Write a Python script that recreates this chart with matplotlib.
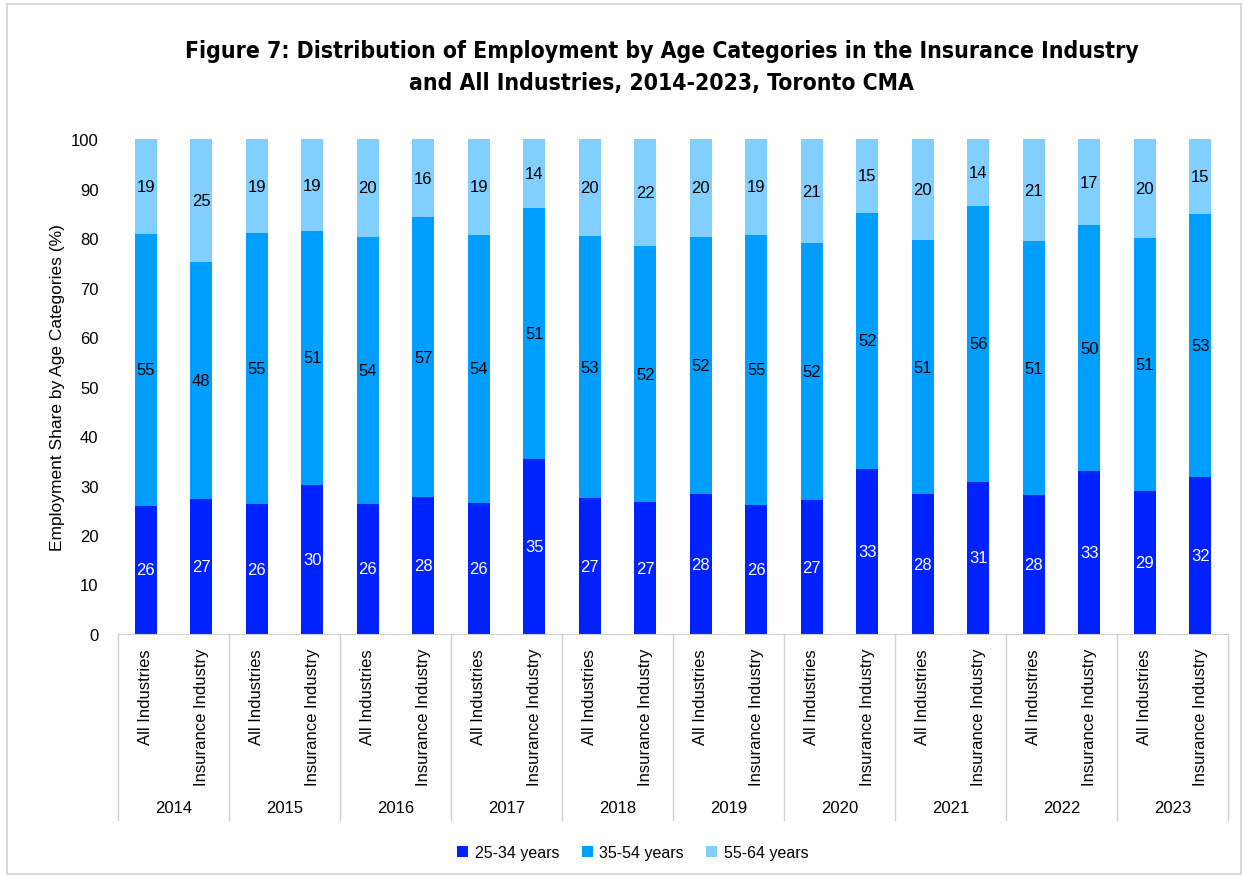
import numpy as np
import matplotlib.pyplot as plt
from matplotlib.patches import Rectangle

years = ['2014', '2015', '2016', '2017', '2018', '2019', '2020', '2021', '2022', '2023']
groups = ['All Industries', 'Insurance Industry']

# shares (%) per bar, order: 2014 All, 2014 Ins, 2015 All, ...
age_25_34 = [25.9, 27.3, 26.2, 30.2, 26.3, 27.6, 26.4, 35.3, 27.4, 26.6,
             28.2, 26.1, 27.0, 33.4, 28.2, 30.8, 28.1, 32.9, 28.8, 31.7]
age_35_54 = [54.9, 47.8, 54.8, 51.2, 54.0, 56.6, 54.3, 50.8, 53.0, 51.7,
             52.1, 54.6, 51.9, 51.7, 51.4, 55.6, 51.2, 49.7, 51.3, 53.1]
age_55_64 = [19.2, 24.9, 19.0, 18.6, 19.7, 15.8, 19.3, 13.9, 19.6, 21.7,
             19.7, 19.3, 21.1, 14.9, 20.4, 13.6, 20.7, 17.4, 19.9, 15.2]

series = ['25-34 years', '35-54 years', '55-64 years']
colors = ['#0022FF', '#009EFF', '#80CFFF']

plt.rcParams['font.family'] = ['Liberation Sans', 'DejaVu Sans']

fig = plt.figure(figsize=(12.48, 8.79), dpi=100)
ax = fig.add_axes([0.0946, 0.2776, 0.8894, 0.5631])

x = np.arange(len(age_25_34))
bottom = np.zeros(len(x))
for vals, col, name in zip([age_25_34, age_35_54, age_55_64], colors, series):
    vals = np.array(vals)
    ax.bar(x, vals, width=0.4, bottom=bottom, color=col, label=name)
    txt_col = 'white' if col == colors[0] else 'black'
    for xi, b, v in zip(x, bottom, vals):
        ax.text(xi, b + v / 2, f'{v:.0f}', ha='center', va='center',
                fontsize=12, color=txt_col)
    bottom += vals

ax.set_xlim(-0.5, len(x) - 0.5)
ax.set_ylim(0, 100)
ax.set_yticks(range(0, 101, 10))
ax.tick_params(axis='y', length=0, labelsize=12, pad=14)
ax.set_xticks(x)
ax.set_xticklabels(groups * len(years), rotation=90, fontsize=12)
ax.tick_params(axis='x', length=0, pad=10)
for s in ['top', 'right', 'left']:
    ax.spines[s].set_visible(False)
ax.spines['bottom'].set_color('#d0d0d0')
ax.set_ylabel('Employment Share by Age Categories (%)', fontsize=12.5, labelpad=4)

# year grouping lines and labels
trans = ax.get_xaxis_transform()
for i in range(len(years) + 1):
    ax.plot([i * 2 - 0.5, i * 2 - 0.5], [0, -0.375], transform=trans,
            color='#d0d0d0', lw=1, clip_on=False)
for i, yr in enumerate(years):
    ax.text(i * 2 + 0.5, -0.35, yr, transform=trans, ha='center', va='center',
            fontsize=12)

fig.suptitle('Figure 7: Distribution of Employment by Age Categories in the Insurance Industry\n'
             'and All Industries, 2014-2023, Toronto CMA',
             x=0.53, y=0.955, fontsize=16.5, fontweight='bold',
             fontfamily='DejaVu Sans', fontstretch='condensed', linespacing=1.5)

fig.legend(loc='center', bbox_to_anchor=(0.507, 0.029), ncol=3, frameon=False,
           fontsize=11.5, handlelength=0.7, handleheight=0.7, columnspacing=1.4,
           handletextpad=0.4)

fig.patches.append(Rectangle((0.006, 0.004), 0.988, 0.99, transform=fig.transFigure,
                             fill=False, edgecolor='#d9d9d9', lw=1.5))

plt.savefig('out.png', dpi=100)
